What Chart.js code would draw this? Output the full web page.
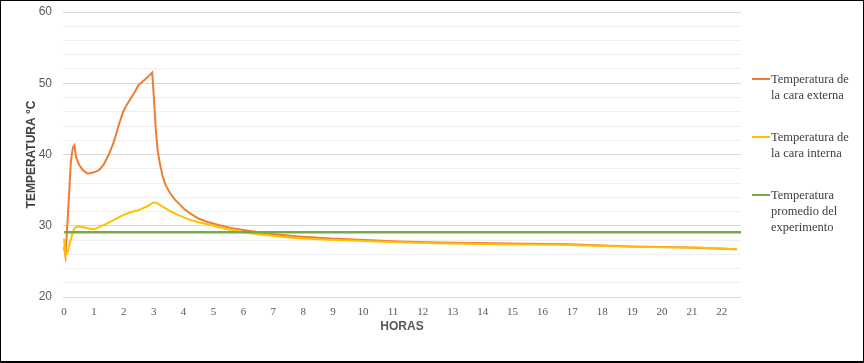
<!DOCTYPE html>
<html>
<head>
<meta charset="utf-8">
<script src="https://cdn.jsdelivr.net/npm/chart.js@4.4.1/dist/chart.umd.min.js"></script>
<style>
  html, body { margin: 0; padding: 0; background: #fff; }
  #frame { position: relative; width: 864px; height: 363px; box-sizing: border-box; border: 1px solid #000; border-bottom-width: 2px; background: #fff; overflow: hidden; }
  #c { position: absolute; left: 0; top: 0; }
  .lg-line { position: absolute; width: 18px; height: 2px; }
  .lg-text { position: absolute; font-family: "Liberation Serif", "Times New Roman", serif; font-size: 12.5px; line-height: 16px; color: #404040; white-space: nowrap; }
</style>
</head>
<body>
<div id="frame">
  <canvas id="c" width="862" height="360"></canvas>
</div>
<script>
// ---- Data ----
const hoursExt = [0, 0.05, 0.1, 0.17, 0.23, 0.3, 0.35, 0.4, 0.5, 0.63, 0.8, 1.0, 1.17, 1.33, 1.5, 1.67, 1.83, 1.97, 2.1, 2.27, 2.37, 2.5, 2.7, 2.83, 2.95, 3.0, 3.07, 3.13, 3.2, 3.3, 3.4, 3.53, 3.7, 3.87, 4.03, 4.23, 4.5, 4.83, 5.17, 5.57, 6.0, 6.5, 7.0, 7.83, 8.93, 10.07, 11.17, 12.5, 14.93, 16.83, 18.93, 20.83, 22.5];
const tempExt  = [27.0, 25.8, 29.2, 34.4, 39.0, 41.0, 41.3, 39.7, 38.6, 37.8, 37.3, 37.5, 37.8, 38.6, 40.0, 41.8, 44.1, 45.9, 47.0, 48.1, 48.8, 49.8, 50.5, 51.0, 51.5, 48.4, 43.5, 40.7, 38.9, 36.9, 35.7, 34.7, 33.7, 33.0, 32.3, 31.7, 31.0, 30.5, 30.1, 29.7, 29.4, 29.1, 28.8, 28.5, 28.2, 28.0, 27.8, 27.65, 27.5, 27.4, 27.1, 26.95, 26.7];

const hoursInt = [0, 0.03, 0.05, 0.13, 0.23, 0.33, 0.43, 0.57, 0.77, 1.0, 1.17, 1.43, 1.7, 1.97, 2.23, 2.5, 2.77, 3.0, 3.13, 3.33, 3.57, 3.83, 4.17, 4.5, 4.9, 5.33, 5.83, 6.5, 7.17, 7.83, 8.83, 9.83, 11.17, 12.5, 14.5, 16.5, 17.83, 19.5, 21.17, 22.5];
const tempInt  = [28.2, 26.7, 25.8, 26.4, 28.1, 29.5, 29.9, 29.85, 29.65, 29.5, 29.8, 30.3, 30.9, 31.5, 31.9, 32.2, 32.7, 33.3, 33.15, 32.6, 32.0, 31.5, 30.9, 30.5, 30.1, 29.65, 29.2, 28.8, 28.5, 28.25, 28.05, 27.9, 27.7, 27.55, 27.4, 27.35, 27.2, 27.0, 26.95, 26.7];

const hoursAvg = [0, 22.64];
const tempAvg  = [29.1, 29.1];

const seriesNames = ["Temperatura de la cara externa", "Temperatura de la cara interna", "Temperatura promedio del experimento"];
const legendLines = [["Temperatura de", "la cara externa"], ["Temperatura de", "la cara interna"], ["Temperatura", "promedio del", "experimento"]];
const seriesColors = ["#ED7D31", "#FFC000", "#70AD47"];
const xTitle = "HORAS";
const yTitle = "TEMPERATURA \u00B0C";

function pts(xs, ys) { return xs.map((x, i) => ({ x: x, y: ys[i] })); }

const chart = new Chart(document.getElementById('c'), {
  type: 'line',
  data: {
    datasets: [
      { label: seriesNames[0], data: pts(hoursExt, tempExt), borderColor: seriesColors[0], borderWidth: 2, pointRadius: 0, tension: 0, order: 3 },
      { label: seriesNames[1], data: pts(hoursInt, tempInt), borderColor: seriesColors[1], borderWidth: 2, pointRadius: 0, tension: 0, order: 2 },
      { label: seriesNames[2], data: pts(hoursAvg, tempAvg), borderColor: seriesColors[2], borderWidth: 2.5, pointRadius: 0, tension: 0, order: 1 }
    ]
  },
  options: {
    responsive: false,
    animation: false,
    devicePixelRatio: 1,
    layout: { padding: { left: 0, right: 122, top: 11, bottom: 0 } },
    plugins: { legend: { display: false }, tooltip: { enabled: false } },
    scales: {
      x: {
        type: 'linear',
        min: -0.033,
        max: 22.64,
        grid: { display: false },
        border: { display: false },
        ticks: {
          stepSize: 1,
          includeBounds: false,
          autoSkip: false,
          maxTicksLimit: 100,
          maxRotation: 0,
          padding: 1,
          color: '#595959',
          font: { family: '"Liberation Serif", "Times New Roman", serif', size: 11 },
          callback: (v) => Number.isInteger(v) && v >= 0 ? String(v) : ''
        },
        title: {
          display: true,
          text: xTitle,
          color: '#595959',
          font: { family: '"Liberation Sans", Arial, sans-serif', size: 12, weight: 'bold' },
          padding: { top: 0, bottom: 27 }
        },
        afterFit: (s) => { s.height = 64; s.paddingLeft = 0; s.paddingRight = 0; }
      },
      y: {
        min: 20,
        max: 60,
        grid: {
          drawTicks: false,
          color: (ctx) => (ctx.tick && ctx.tick.value % 10 === 0) ? '#d9d9d9' : '#efefef',
          lineWidth: 1
        },
        border: { display: false },
        ticks: {
          stepSize: 2,
          maxTicksLimit: 100,
          autoSkip: false,
          padding: 11,
          color: '#595959',
          font: { family: '"Liberation Sans", Arial, sans-serif', size: 12 },
          callback: (v) => (v % 10 === 0) ? String(v) : ''
        },
        title: {
          display: true,
          text: yTitle,
          color: '#404040',
          font: { family: '"Liberation Sans", Arial, sans-serif', size: 12, weight: 'bold' },
          padding: { top: 23, bottom: 0 }
        },
        afterFit: (s) => { s.width = 62; s.paddingTop = 0; s.paddingBottom = 0; }
      }
    }
  }
});

// ---- HTML legend ----
const frame = document.getElementById('frame');
const centers = [78, 136, 194];
legendLines.forEach((lines, i) => {
  const ln = document.createElement('div');
  ln.className = 'lg-line';
  ln.style.background = seriesColors[i];
  ln.style.left = '751px';
  ln.style.top = (centers[i] - 1) + 'px';
  frame.appendChild(ln);
  const tx = document.createElement('div');
  tx.className = 'lg-text';
  tx.style.left = '770px';
  tx.style.top = (centers[i] - 8) + 'px';
  tx.innerHTML = lines.map(s => s.replace(/&/g, '&amp;').replace(/</g, '&lt;')).join('<br>');
  frame.appendChild(tx);
});
</script>
</body>
</html>
